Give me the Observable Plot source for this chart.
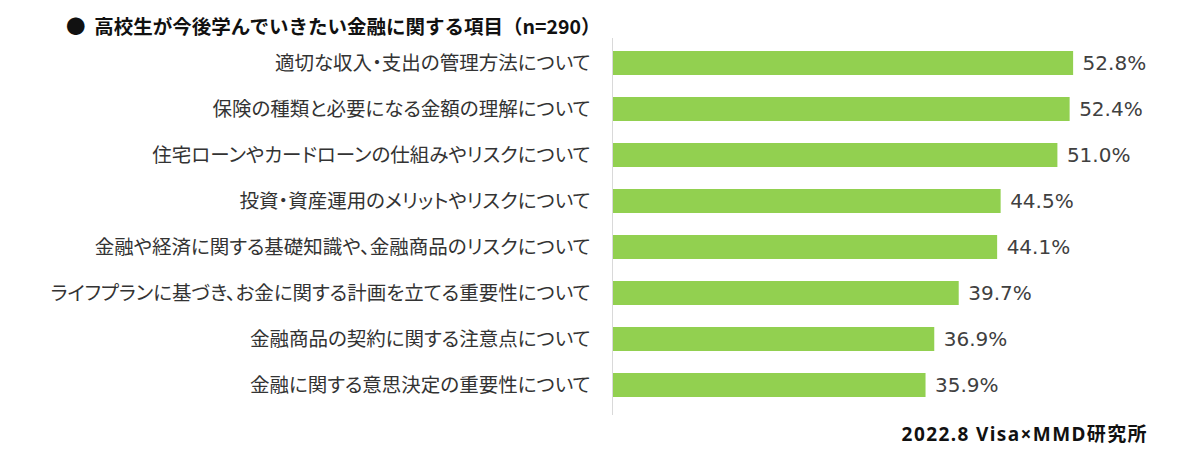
<!DOCTYPE html>
<html><head><meta charset="utf-8">
<script src="https://cdn.jsdelivr.net/npm/d3@7"></script>
<script src="https://cdn.jsdelivr.net/npm/@observablehq/plot@0.6"></script>
<style>
body{margin:0;background:#fff;font-family:"Noto Sans CJK JP","Noto Sans",sans-serif;}
#wrap{position:relative;width:1200px;height:460px;}
#title{position:absolute;left:66px;top:13px;font-size:19.5px;line-height:26px;font-weight:bold;color:#111;white-space:pre;}
#chart{position:absolute;left:0;top:36px;}
#caption{position:absolute;right:52px;top:421px;font-family:"Noto Sans","Noto Sans CJK JP",sans-serif;font-size:19px;letter-spacing:1.4px;line-height:26px;font-weight:bold;color:#111;}
</style></head>
<body><div id="wrap">
<div id="title">●  高校生が今後学んでいきたい金融に関する項目（n=290）</div>
<div id="chart"></div>
<div id="caption">2022.8 Visa×MMD研究所</div>
</div>
<script>
const categories = [
  "適切な収入・支出の管理方法について",
  "保険の種類と必要になる金額の理解について",
  "住宅ローンやカードローンの仕組みやリスクについて",
  "投資・資産運用のメリットやリスクについて",
  "金融や経済に関する基礎知識や、金融商品のリスクについて",
  "ライフプランに基づき、お金に関する計画を立てる重要性について",
  "金融商品の契約に関する注意点について",
  "金融に関する意思決定の重要性について"
];
const values = [52.8, 52.4, 51.0, 44.5, 44.1, 39.7, 36.9, 35.9];
const data = categories.map((c, i) => ({cat: c, v: values[i]}));

const chart = Plot.plot({
  width: 1200,
  height: 380,
  marginLeft: 612,
  marginRight: 64,
  marginTop: 2,
  marginBottom: 1,
  style: {fontFamily: '"Noto Sans CJK JP","Noto Sans",sans-serif', background: "#fff", fontFeatureSettings: '"palt"'},
  x: {domain: [0, 60], axis: null},
  y: {domain: categories, paddingInner: 0.48, paddingOuter: 0.24, insetBottom: 6, label: null},
  marks: [
    Plot.axisY({tickSize: 0, tickPadding: 22, fontSize: 19.5, fill: "#333", label: null}),
    Plot.barX(data, {x: "v", y: "cat", fill: "#92d050"}),
    Plot.ruleX([0], {stroke: "#d9d9d9", strokeWidth: 1}),
    Plot.text(data, {x: "v", y: "cat", text: d => d.v.toFixed(1) + "%", textAnchor: "start", dx: 9, fontSize: 20, fontFamily: '"DejaVu Sans",sans-serif', fill: "#404040", letterSpacing: "1px"})
  ]
});
document.getElementById("chart").appendChild(chart);
</script>
</body></html>
